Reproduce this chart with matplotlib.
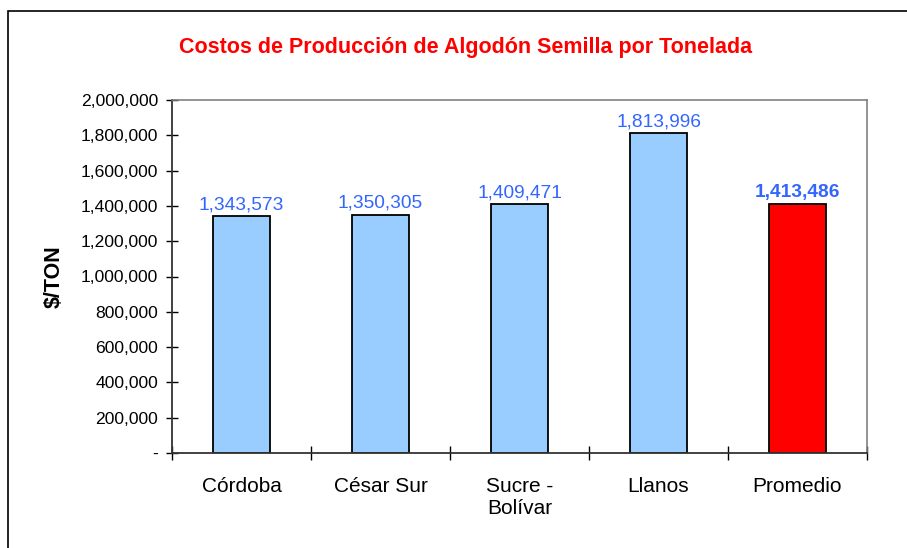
import matplotlib.pyplot as plt
from matplotlib.patches import Rectangle
from matplotlib.ticker import FuncFormatter, FixedLocator, NullFormatter

plt.rcParams['font.family'] = ['Liberation Sans', 'DejaVu Sans']

# Data
regions = ['Córdoba', 'César Sur', 'Sucre -\nBolívar', 'Llanos', 'Promedio']
costs = [1343573, 1350305, 1409471, 1813996, 1413486]
colors = ['#99CCFF', '#99CCFF', '#99CCFF', '#99CCFF', '#FF0000']

fig = plt.figure(figsize=(9.07, 5.48), dpi=100)

# Outer chart border
fig.patches.append(Rectangle((8 / 907, -0.05), 1.2, 1 - 11 / 548 + 0.05,
                             transform=fig.transFigure, fill=False,
                             edgecolor='black', linewidth=1.2))

ax = fig.add_axes([172 / 907, 1 - 453 / 548, 695 / 907, 353 / 548])
x = list(range(len(regions)))
ax.bar(x, costs, width=0.41, color=colors, edgecolor='black', linewidth=1.3, zorder=2)

ax.set_xlim(-0.5, len(regions) - 0.5)
ax.set_ylim(0, 2000000)
ax.set_yticks(range(0, 2000001, 200000))
ax.yaxis.set_major_formatter(FuncFormatter(lambda v, p: '-' if v == 0 else f'{int(v):,}'))

# category labels under the bars, ticks on the boundaries
ax.xaxis.set_major_locator(FixedLocator([i - 0.5 for i in range(len(regions) + 1)]))
ax.xaxis.set_major_formatter(NullFormatter())
ax.xaxis.set_minor_locator(FixedLocator(x))
ax.set_xticklabels(regions, minor=True, fontsize=15, va='top', linespacing=1.25)
ax.tick_params(axis='x', which='minor', length=0, pad=17)
ax.tick_params(axis='x', which='major', direction='inout', length=10, width=1)
ax.tick_params(axis='y', direction='inout', length=8, width=1, labelsize=12.6, pad=6)

for side in ['top', 'right']:
    ax.spines[side].set_color('#808080')
    ax.spines[side].set_linewidth(1.2)
for side in ['left', 'bottom']:
    ax.spines[side].set_color('#333333')
    ax.spines[side].set_linewidth(1.3)

# value labels
for i, v in enumerate(costs):
    bold = regions[i] == 'Promedio'
    ax.annotate(f'{v:,}', (i, v), xytext=(0, 2), textcoords='offset points',
                ha='center', va='bottom', color='#3366FF', fontsize=13.8,
                fontweight='bold' if bold else 'normal')

ax.set_ylabel('$/TON', fontsize=15.5, fontweight='bold')
ax.yaxis.set_label_coords(-0.155, 0.5)

fig.text(466 / 907, 1 - 48 / 548, 'Costos de Producción de Algodón Semilla por Tonelada',
         ha='center', va='center', color='#FF0000', fontsize=15.5, fontweight='bold')

fig.savefig('out.png', dpi=100)
